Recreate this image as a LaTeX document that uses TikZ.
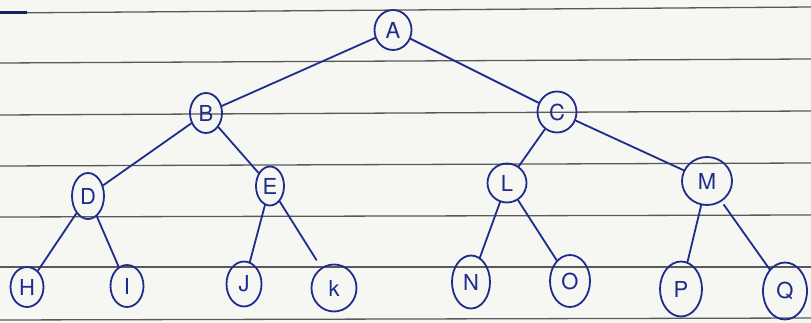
\documentclass[tikz,border=0pt]{standalone}
\usepackage{fontspec}
\setmainfont{TeX Gyre Heros}
\usetikzlibrary{shapes.geometric}
\definecolor{ink}{HTML}{1E2C8C}
\definecolor{paper}{HTML}{F6F6F3}
\definecolor{rule}{HTML}{5A5A5A}
\tikzset{
  tn/.style={draw=ink, ellipse, line width=1.8pt, inner sep=0pt, text=ink,
             font=\fontsize{22}{22}\selectfont},
  edge/.style={draw=ink, line width=1.8pt, line cap=round},
  ruling/.style={draw=rule, line width=1.3pt}
}
\begin{document}
\begin{tikzpicture}[x=1pt,y=-1pt]
\fill[paper] (0,0) rectangle (811,323);
\useasboundingbox (0,0) rectangle (811,323);
% ruled lines
\draw[ruling] (0,13) -- (811,7);
\draw[ruling] (0,63) -- (811,59);
\draw[ruling] (0,115) -- (811,111);
\draw[ruling] (0,166) -- (811,163);
\draw[ruling] (0,217) -- (811,215);
\draw[ruling] (0,267) -- (811,267);
\draw[ruling] (0,320) -- (811,318);
\draw[draw=ink!70!black, line width=2.6pt] (0,12.5) -- (27,12.5);
% nodes
\node[tn, minimum width=37pt, minimum height=40pt] (A) at (393,30) {A};
\node[tn, minimum width=32pt, minimum height=40pt] (B) at (206,113) {B};
\node[tn, minimum width=39pt, minimum height=41pt] (C) at (557,112) {C};
\node[tn, minimum width=32pt, minimum height=46pt] (D) at (88,196) {D};
\node[tn, minimum width=28pt, minimum height=39pt] (E) at (270,186) {E};
\node[tn, minimum width=39pt, minimum height=39pt] (L) at (507,183) {L};
\node[tn, minimum width=50pt, minimum height=48pt] (M) at (707,181) {M};
\node[tn, minimum width=33pt, minimum height=40pt] (H) at (27,287) {H};
\node[tn, minimum width=33pt, minimum height=42pt] (I) at (127,286) {I};
\node[tn, minimum width=35pt, minimum height=45pt] (J) at (244,284) {J};
\node[tn, minimum width=45pt, minimum height=47pt] (K) at (334,288) {k};
\node[tn, minimum width=38pt, minimum height=53pt] (N) at (471,282) {N};
\node[tn, minimum width=40pt, minimum height=52pt] (O) at (570,281) {O};
\node[tn, minimum width=42pt, minimum height=55pt] (P) at (681,289) {P};
\node[tn, minimum width=44pt, minimum height=57pt] (Q) at (785,291) {Q};
% edges
\draw[edge] (A) -- (B);
\draw[edge] (A) -- (C);
\draw[edge] (B) -- (D);
\draw[edge] (B) -- (E);
\draw[edge] (C) -- (L);
\draw[edge] (C) -- (M);
\draw[edge] (D) -- (H);
\draw[edge] (D) -- (I);
\draw[edge] (E) -- (J);
\draw[edge, shorten >=9pt] (E) -- (K);
\draw[edge] (L) -- (N);
\draw[edge] (L) -- (O);
\draw[edge] (M) -- (P);
\draw[edge, shorten <=4pt] (M) -- (Q);
\end{tikzpicture}
\end{document}
